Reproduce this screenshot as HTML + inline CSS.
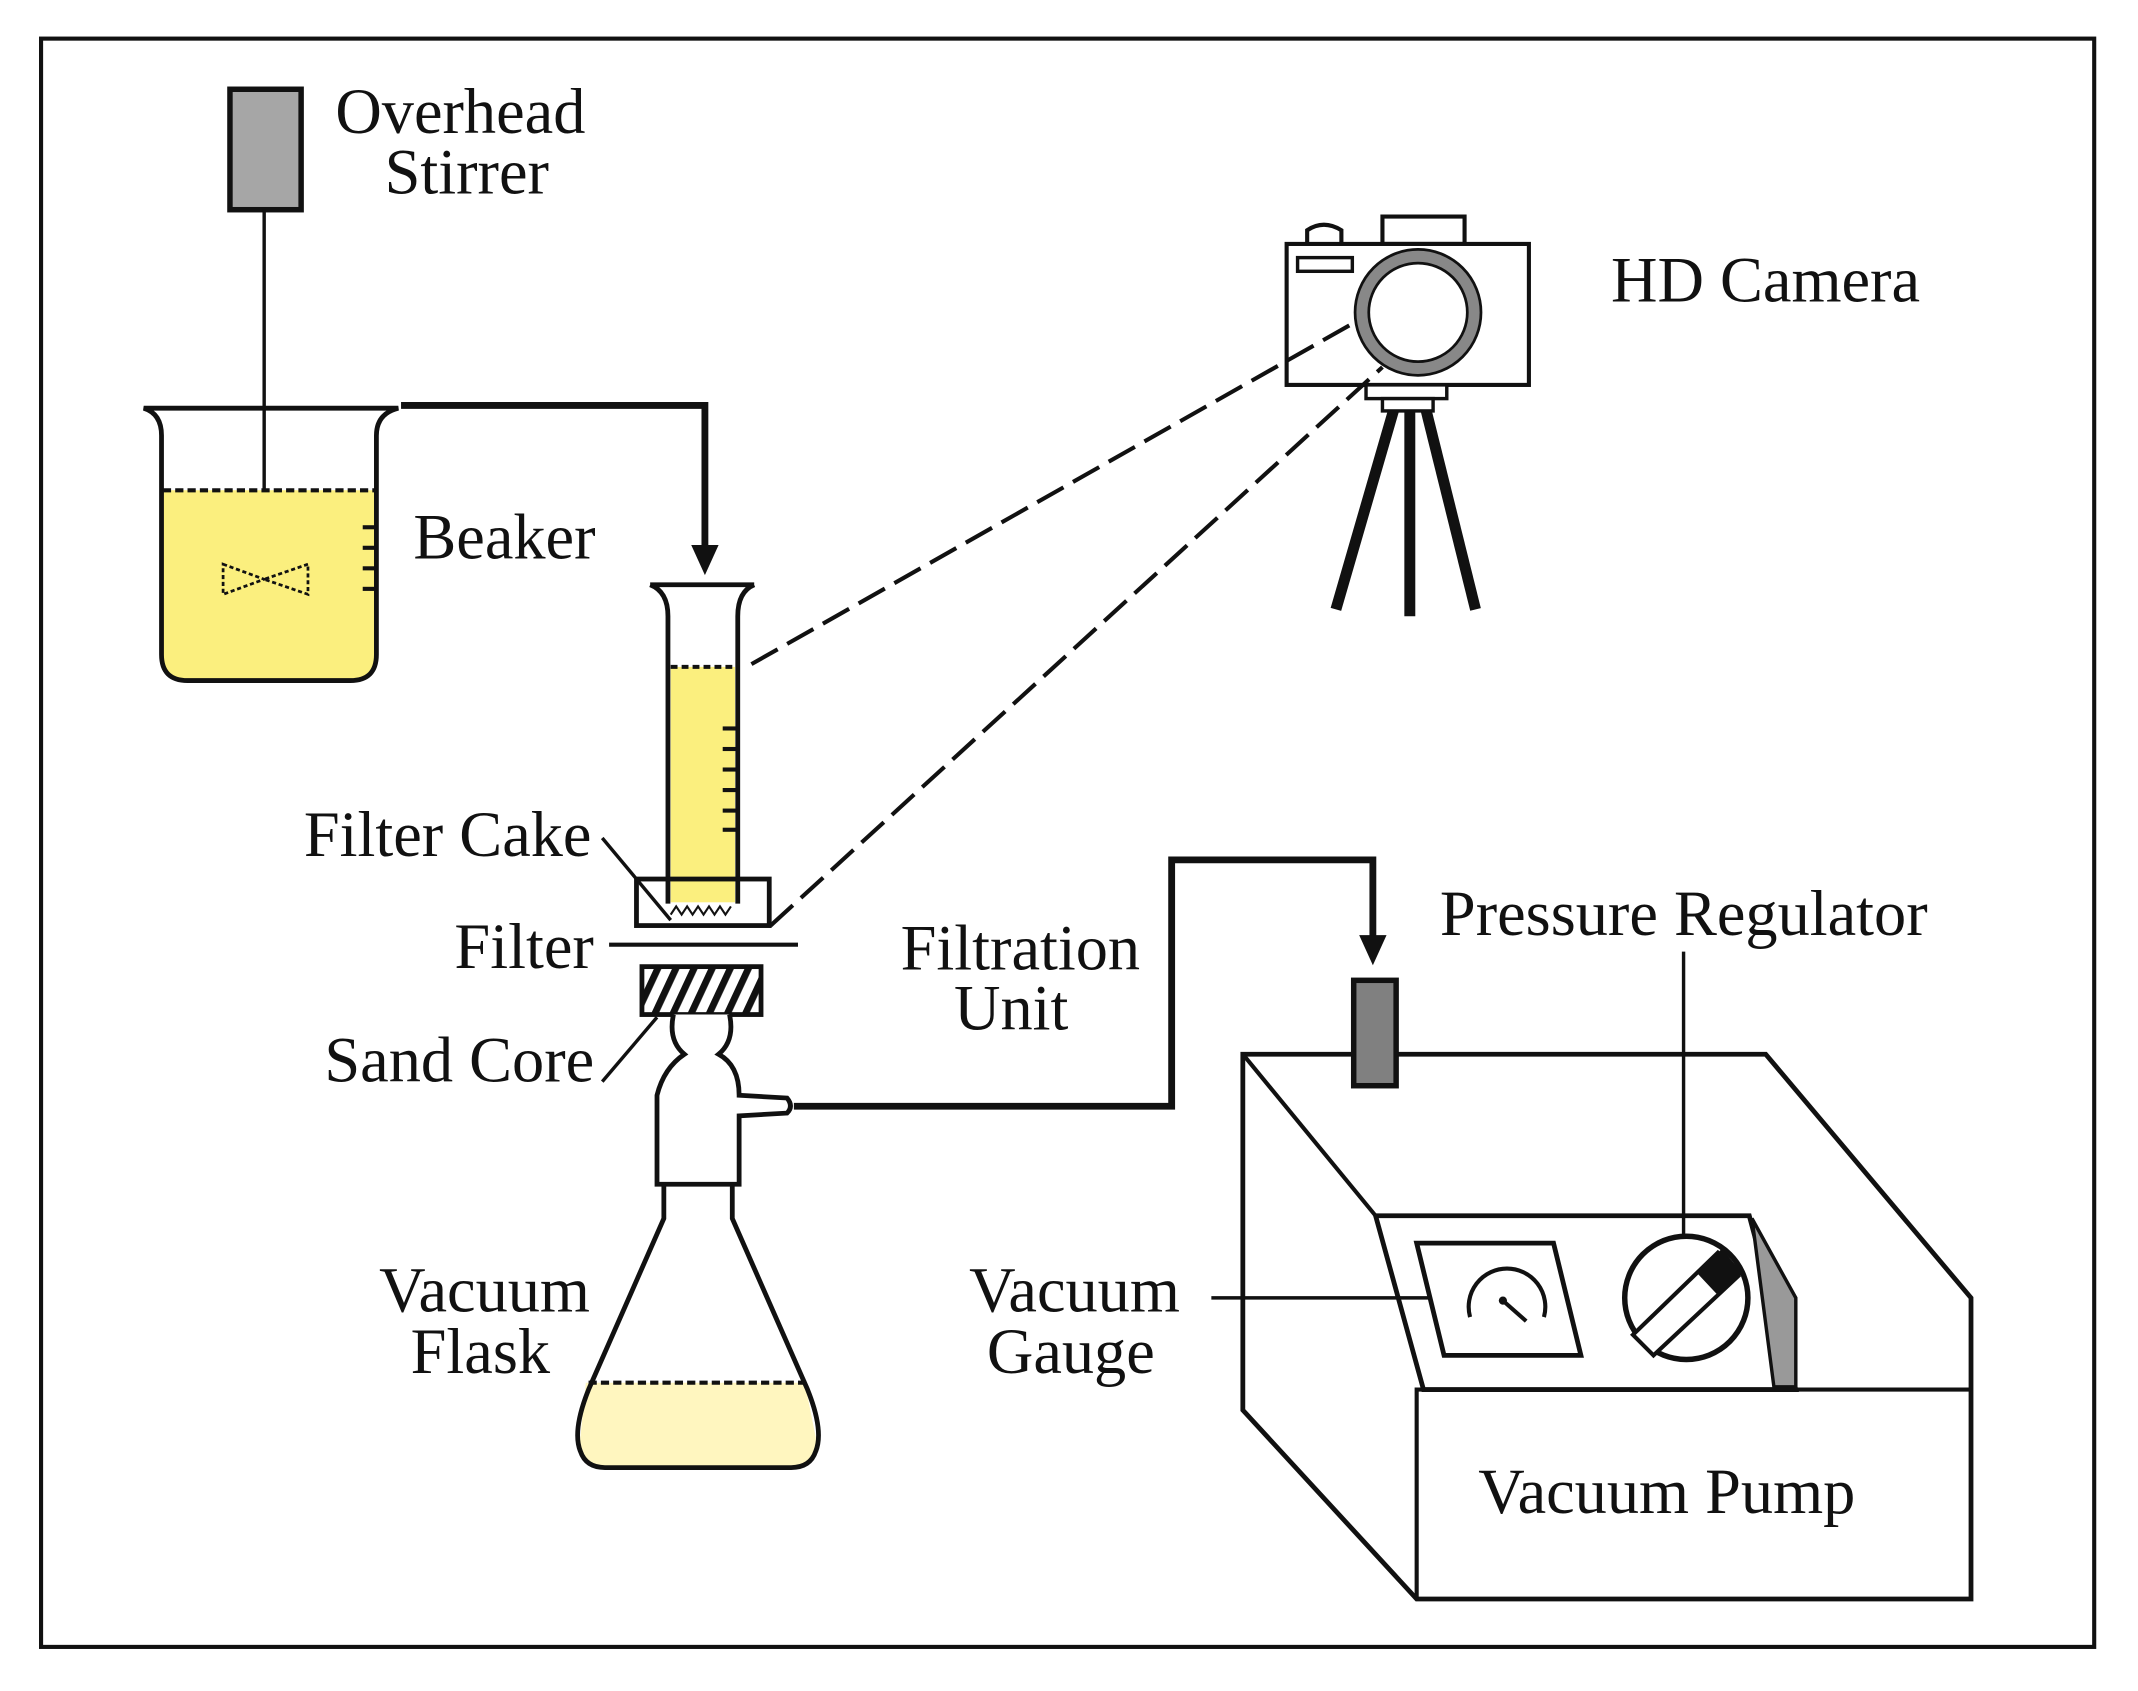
<!DOCTYPE html>
<html><head><meta charset="utf-8"><style>html,body{margin:0;padding:0;background:#fff}svg{display:block}text{font-family:"Liberation Serif",serif;font-size:47px;fill:#111}</style></head>
<body>
<svg width="2138" height="1691" viewBox="0 0 1562 1235" xmlns="http://www.w3.org/2000/svg">
<defs>
<pattern id="hatch" width="12" height="12" patternUnits="userSpaceOnUse" patternTransform="rotate(25)"><rect width="12" height="12" fill="#fff"/><rect width="5" height="12" fill="#111"/></pattern>
</defs>
<rect x="30" y="28" width="1500" height="1175" fill="#fff" stroke="#111" stroke-width="3"/>
<!-- stirrer -->
<rect x="168" y="65" width="52" height="88" fill="#a6a6a6" stroke="#111" stroke-width="4"/>
<line x1="193" y1="153" x2="193" y2="425" stroke="#111" stroke-width="2.5"/>
<text x="245" y="97">Overhead</text>
<text x="281" y="141">Stirrer</text>
<!-- beaker -->
<path d="M119 358 L275 358 L275 478 Q275 497 256 497 L137 497 Q119 497 119 478 Z" fill="#fbef7e"/>
<path d="M105 298 Q118 302 118 318 L118 478 Q118 497 137 497 L256 497 Q275 497 275 478 L275 318 Q275 302 291 298 Z" fill="none" stroke="#111" stroke-width="3.5"/>
<line x1="119" y1="358" x2="275" y2="358" stroke="#111" stroke-width="3" stroke-dasharray="6,3"/>
<g stroke="#111" stroke-width="3"><line x1="265" y1="385" x2="275" y2="385"/><line x1="265" y1="400" x2="275" y2="400"/><line x1="265" y1="415" x2="275" y2="415"/><line x1="265" y1="430" x2="275" y2="430"/></g>
<path d="M163 412 L193 423 L163 434 Z M225 412 L193 423 L225 434 Z" fill="none" stroke="#111" stroke-width="2" stroke-dasharray="3,2"/>
<text x="302" y="408">Beaker</text>
<path d="M293 296 L515 296 L515 400" fill="none" stroke="#111" stroke-width="5"/>
<path d="M505 398 L525 398 L515 420 Z" fill="#111"/>
<!-- cylinder -->
<rect x="490" y="487" width="47" height="172" fill="#fbef7e"/>
<path d="M475 427 Q488 432 488 450 L488 660 M551 427 Q539 432 539 450 L539 660 M475 427 L551 427" fill="none" stroke="#111" stroke-width="3.5"/>
<line x1="490" y1="487" x2="537" y2="487" stroke="#111" stroke-width="3" stroke-dasharray="5,3"/>
<g stroke="#111" stroke-width="3"><line x1="528" y1="532" x2="538" y2="532"/><line x1="528" y1="547" x2="538" y2="547"/><line x1="528" y1="562" x2="538" y2="562"/><line x1="528" y1="577" x2="538" y2="577"/><line x1="528" y1="592" x2="538" y2="592"/><line x1="528" y1="606" x2="538" y2="606"/></g>
<rect x="465" y="642" width="97" height="34" fill="none" stroke="#111" stroke-width="3.5"/>
<path d="M490 668 l4 -6 l4 6 l4 -6 l4 6 l4 -6 l4 6 l4 -6 l4 6 l4 -6 l4 6 l4 -6" fill="none" stroke="#111" stroke-width="1.5"/>
<line x1="445" y1="690" x2="583" y2="690" stroke="#111" stroke-width="3"/>
<rect x="469" y="706" width="87" height="35" fill="url(#hatch)" stroke="#111" stroke-width="3.5"/>
<!-- adapter + flask -->
<path d="M492 741 Q488 760 500 770 Q485 780 480 800 L480 865 L540 865 L540 815 L575 813 Q580 808 575 802 L540 800 Q540 778 525 770 Q537 760 533 741" fill="#fff" stroke="#111" stroke-width="3.5"/>
<path d="M428 1010 L588 1010 L596 1050 Q598 1072 578 1072 L442 1072 Q421 1072 424 1050 Z" fill="#fff6bf"/>
<path d="M485 865 L485 890 L430 1015 Q418 1045 424 1060 Q428 1072 442 1072 L578 1072 Q592 1072 596 1060 Q602 1045 590 1015 L535 890 L535 865" fill="none" stroke="#111" stroke-width="3.5"/>
<line x1="430" y1="1010" x2="590" y2="1010" stroke="#111" stroke-width="3" stroke-dasharray="6,3"/>
<text x="222" y="625">Filter Cake</text>
<line x1="440" y1="612" x2="490" y2="672" stroke="#111" stroke-width="2.5"/>
<text x="332" y="707">Filter</text>
<text x="237" y="790">Sand Core</text>
<line x1="440" y1="790" x2="480" y2="743" stroke="#111" stroke-width="2.5"/>
<text x="277" y="958">Vacuum</text>
<text x="300" y="1003">Flask</text>
<!-- camera -->
<path d="M955 178 L955 168 Q967 160 980 168 L980 178" fill="#fff" stroke="#111" stroke-width="3"/>
<rect x="1010" y="158" width="60" height="20" fill="#fff" stroke="#111" stroke-width="3"/>
<rect x="940" y="178" width="177" height="103" fill="#fff" stroke="#111" stroke-width="3"/>
<rect x="948" y="188" width="40" height="10" fill="#fff" stroke="#111" stroke-width="2.5"/>
<circle cx="1036" cy="228" r="41" fill="#fff" stroke="#888" stroke-width="9"/>
<circle cx="1036" cy="228" r="46" fill="none" stroke="#111" stroke-width="2"/>
<circle cx="1036" cy="228" r="36" fill="none" stroke="#111" stroke-width="2"/>
<rect x="998" y="281" width="59" height="10" fill="#fff" stroke="#111" stroke-width="2.5"/>
<rect x="1010" y="291" width="37" height="9" fill="#fff" stroke="#111" stroke-width="2.5"/>
<g stroke="#111" stroke-width="8"><line x1="1018" y1="300" x2="976" y2="445"/><line x1="1030" y1="300" x2="1030" y2="450"/><line x1="1042" y1="300" x2="1078" y2="445"/></g>
<text x="1177" y="220">HD Camera</text>
<!-- dashed sight lines -->
<line x1="549" y1="485" x2="992" y2="234" stroke="#111" stroke-width="3" stroke-dasharray="22,8"/>
<line x1="563" y1="676" x2="1010" y2="268" stroke="#111" stroke-width="3" stroke-dasharray="22,8"/>
<!-- vacuum line -->
<path d="M580 808 L856 808 L856 628 L1003 628 L1003 685" fill="none" stroke="#111" stroke-width="5"/>
<path d="M993 683 L1013 683 L1003 705 Z" fill="#111"/>
<!-- pump -->
<path d="M908 770 L1290 770 L1440 948 L1440 1168 L1035 1168 L908 1030 Z" fill="#fff" stroke="#111" stroke-width="3.5"/>
<path d="M1035 1168 L1035 1015 L1440 1015" fill="none" stroke="#111" stroke-width="3"/>
<line x1="908" y1="770" x2="1005" y2="888" stroke="#111" stroke-width="3"/>
<path d="M1005 888 L1278 888 L1312 1015 L1040 1015 Z" fill="#fff" stroke="#111" stroke-width="3.5"/>
<path d="M1280 890 L1312 948 L1312 1013 L1296 1013 Z" fill="#999" stroke="#111" stroke-width="2.5"/>
<rect x="989" y="716" width="31" height="77" fill="#808080" stroke="#111" stroke-width="4"/>
<path d="M1035 908 L1135 908 L1155 990 L1055 990 Z" fill="#fff" stroke="#111" stroke-width="3.5"/>
<path d="M1074 962 A28 28 0 1 1 1128 962" fill="none" stroke="#111" stroke-width="3"/>
<line x1="1098" y1="950" x2="1115" y2="965" stroke="#111" stroke-width="3"/>
<circle cx="1098" cy="950" r="3" fill="#111"/>
<circle cx="1232" cy="948" r="45" fill="#fff" stroke="#111" stroke-width="4"/>
<path d="M1193 975 L1255 915 L1270 932 L1208 990 Z" fill="#fff" stroke="#111" stroke-width="3"/>
<path d="M1240 930 L1258 912 L1273 930 L1255 946 Z" fill="#111"/>
<line x1="1230" y1="695" x2="1230" y2="905" stroke="#111" stroke-width="2.5"/>
<text x="1052" y="683">Pressure Regulator</text>
<text x="658" y="708">Filtration</text>
<text x="697" y="752">Unit</text>
<text x="708" y="958">Vacuum</text>
<text x="721" y="1003">Gauge</text>
<line x1="885" y1="948" x2="1045" y2="948" stroke="#111" stroke-width="2.5"/>
<text x="1080" y="1105">Vacuum Pump</text>
</svg>
</body></html>
